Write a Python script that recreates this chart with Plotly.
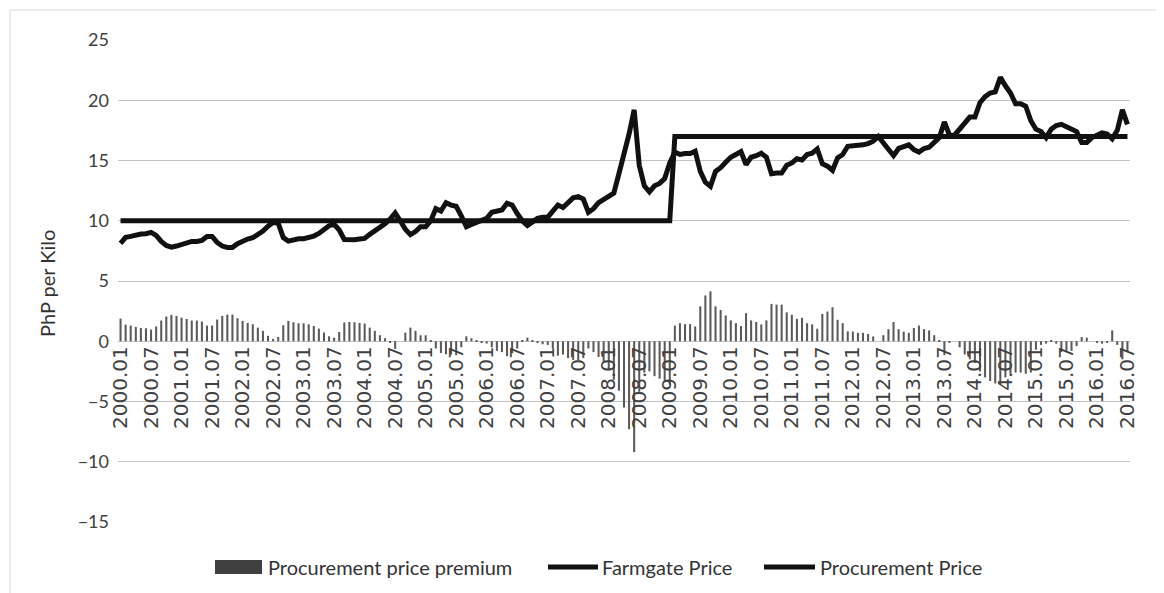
import plotly.graph_objects as go

# ---------------- data ----------------
years = list(range(2000, 2017))
months = [f"{y}.{m:02d}" for y in years for m in range(1, 13)][:199]   # 2000.01 .. 2016.07
tick_labels = months[::6]

farmgate = (
    [8.12, 8.62, 8.70, 8.81, 8.90, 8.92, 9.03, 8.78, 8.28, 7.95, 7.81, 7.90] +        # 2000
    [8.04, 8.15, 8.28, 8.28, 8.37, 8.70, 8.70, 8.20, 7.90, 7.79, 7.79, 8.09] +        # 2001
    [8.31, 8.48, 8.59, 8.87, 9.14, 9.55, 9.85, 9.80, 8.60, 8.31, 8.42, 8.51] +        # 2002
    [8.51, 8.59, 8.73, 8.95, 9.28, 9.59, 9.70, 9.23, 8.45, 8.40, 8.42, 8.48] +        # 2003
    [8.53, 8.87, 9.14, 9.50, 9.75, 10.14, 10.64, 10.00, 9.30, 8.85, 9.10, 9.50] +     # 2004
    [9.50, 10.00, 11.00, 10.80, 11.50, 11.30, 11.20, 10.40, 9.50, 9.70, 9.90, 10.10] +  # 2005
    [10.20, 10.70, 10.80, 10.90, 11.45, 11.30, 10.60, 10.00, 9.60, 9.90, 10.20, 10.30] +  # 2006
    [10.30, 10.80, 11.30, 11.10, 11.50, 11.90, 12.00, 11.80, 10.70, 11.00, 11.50, 11.80] +  # 2007
    [12.00, 12.30, 13.90, 15.40, 17.20, 19.20, 14.60, 12.90, 12.40, 12.90, 13.10, 13.50] +  # 2008
    [14.80, 15.70, 15.50, 15.58, 15.58, 15.77, 14.10, 13.20, 12.86, 14.10, 14.40, 14.86] +  # 2009
    [15.27, 15.50, 15.74, 14.67, 15.27, 15.40, 15.60, 15.27, 13.90, 13.96, 13.96, 14.60] +  # 2010
    [14.80, 15.14, 15.05, 15.50, 15.60, 15.96, 14.73, 14.53, 14.18, 15.22, 15.50, 16.18] +  # 2011
    [16.20, 16.30, 16.30, 16.40, 16.60, 17.00, 16.50, 16.00, 15.40, 16.00, 16.20, 16.30] +  # 2012
    [15.90, 15.70, 16.00, 16.10, 16.50, 16.90, 18.20, 17.10, 17.10, 17.60, 18.10, 18.60] +  # 2013
    [18.60, 19.80, 20.30, 20.60, 20.70, 21.90, 21.20, 20.60, 19.70, 19.70, 19.50, 18.30] +  # 2014
    [17.60, 17.40, 16.90, 17.60, 17.90, 18.00, 17.80, 17.60, 17.40, 16.50, 16.50, 16.90] +  # 2015
    [17.10, 17.30, 17.20, 16.80, 17.50, 19.20, 18.00]                                    # 2016
)

procurement = [10.0] * 109 + [17.0] * 90

premium = (
    [1.88, 1.38, 1.30, 1.19, 1.10, 1.08, 0.97, 1.22, 1.72, 2.05, 2.19, 2.10] +
    [1.96, 1.85, 1.72, 1.72, 1.63, 1.30, 1.30, 1.80, 2.10, 2.21, 2.21, 1.91] +
    [1.69, 1.52, 1.41, 1.13, 0.86, 0.45, 0.20, 0.35, 1.33, 1.69, 1.58, 1.49] +
    [1.49, 1.41, 1.27, 1.05, 0.72, 0.41, 0.30, 0.77, 1.55, 1.60, 1.58, 1.52] +
    [1.47, 1.13, 0.86, 0.50, 0.25, -0.14, -0.64, 0.00, 0.72, 1.13, 0.86, 0.50] +
    [0.50, 0.05, -0.60, -0.97, -1.08, -1.10, -1.16, -0.50, 0.41, 0.25, 0.05, -0.08] +
    [-0.19, -0.50, -0.80, -0.90, -1.24, -1.00, -0.60, 0.05, 0.30, 0.10, -0.15, -0.25] +
    [-0.30, -0.60, -1.20, -1.10, -1.40, -1.55, -1.58, -1.40, -0.60, -0.90, -1.30, -1.70] +
    [-2.40, -3.20, -4.10, -5.50, -7.30, -9.20, -4.20, -2.60, -2.50, -2.90, -3.10, -3.40] +
    [-3.60, 1.30, 1.50, 1.42, 1.42, 1.23, 2.90, 3.80, 4.14, 2.90, 2.60, 2.14] +
    [1.73, 1.50, 1.26, 2.33, 1.73, 1.60, 1.40, 1.73, 3.10, 3.04, 3.04, 2.40] +
    [2.20, 1.86, 1.95, 1.50, 1.40, 1.04, 2.27, 2.47, 2.82, 1.78, 1.50, 0.82] +
    [0.80, 0.70, 0.70, 0.60, 0.40, 0.00, 0.50, 1.00, 1.60, 1.00, 0.80, 0.70] +
    [1.10, 1.30, 1.00, 0.90, 0.50, 0.10, -1.15, -0.10, 0.00, -0.50, -1.10, -1.50] +
    [-1.80, -2.50, -3.00, -3.30, -3.50, -3.60, -3.00, -2.70, -2.60, -2.60, -2.70, -2.60] +
    [-0.70, -0.30, -0.20, 0.05, -0.20, -0.90, -0.90, -0.80, -0.40, 0.35, 0.30, 0.00] +
    [-0.10, -0.20, -0.10, 0.90, -0.30, -1.50, -0.90]
)

legend_names = ["Procurement price premium", "Farmgate Price", "Procurement Price"]

# ---------------- figure ----------------
W, H = 1164, 593
OFF = 8                      # page body margin
L, R, T, B = 110, 42, 32, 79
pw, ph = W - L - R, H - T - B

def px(x):   # x in screen pixels of the reference
    return (x - OFF - L) / pw

def py(y):
    return (H - B - (y - OFF)) / ph

FONT = "Lato"
TXT = "#404040"

fig = go.Figure()
fig.add_trace(go.Bar(x=months, y=premium, name=legend_names[0],
                     marker=dict(color="#595959", line=dict(width=0)),
                     showlegend=False))
fig.add_trace(go.Scatter(x=months, y=farmgate, name=legend_names[1], mode="lines",
                         line=dict(color="#111111", width=5), showlegend=False))
fig.add_trace(go.Scatter(x=months, y=procurement, name=legend_names[2], mode="lines",
                         line=dict(color="#111111", width=5), showlegend=False))

fig.update_layout(
    width=W, height=H,
    margin=dict(l=L, r=R, t=T, b=B),
    paper_bgcolor="white", plot_bgcolor="white",
    bargap=0.6,
    font=dict(family=FONT, color=TXT),
    xaxis=dict(type="category", anchor="free", position=15 / 40,
               tickmode="array", tickvals=tick_labels, ticktext=tick_labels,
               tickangle=-90, tickfont=dict(size=20, color=TXT, family="DejaVu Sans"),
               showgrid=False, showline=False, zeroline=False, ticks=""),
    yaxis=dict(range=[-15, 25], dtick=5, showgrid=True, gridcolor="#c4c4c4",
               gridwidth=1.3, zeroline=True, zerolinecolor="#c4c4c4", zerolinewidth=1.3,
               tickfont=dict(size=18, color=TXT), ticklabelstandoff=8,
               showline=False),
)

shapes = []
annotations = []
# chart area border (top and left visible)
shapes.append(dict(type="line", xref="paper", yref="paper", x0=px(10), x1=px(1180),
                   y0=py(10), y1=py(10), line=dict(color="#d9d9d9", width=1)))
shapes.append(dict(type="line", xref="paper", yref="paper", x0=px(10), x1=px(10),
                   y0=py(10), y1=py(610), line=dict(color="#d9d9d9", width=1)))

# custom legend
ly = 567
shapes.append(dict(type="rect", xref="paper", yref="paper", x0=px(215), x1=px(262),
                   y0=py(574), y1=py(560), fillcolor="#404040", line=dict(width=0)))
annotations.append(dict(x=px(266), y=py(ly), xref="paper", yref="paper", text=legend_names[0],
                        showarrow=False, xanchor="left", yanchor="middle",
                        font=dict(size=20, color="#333333", family=FONT)))
for x0, x1, tx, name in [(548, 598, 600, legend_names[1]), (764, 815, 818, legend_names[2])]:
    shapes.append(dict(type="line", xref="paper", yref="paper", x0=px(x0), x1=px(x1),
                       y0=py(ly), y1=py(ly), line=dict(color="#111111", width=5)))
    annotations.append(dict(x=px(tx), y=py(ly), xref="paper", yref="paper", text=name,
                            showarrow=False, xanchor="left", yanchor="middle",
                            font=dict(size=20, color="#333333", family=FONT)))

# y-axis title
annotations.append(dict(x=px(47), y=py(284), xref="paper", yref="paper", text="PhP per Kilo",
                        textangle=-90, showarrow=False, xanchor="center", yanchor="middle",
                        font=dict(size=20, color="#333333", family=FONT)))

fig.update_layout(shapes=shapes, annotations=annotations)
fig.write_html("out.html")
